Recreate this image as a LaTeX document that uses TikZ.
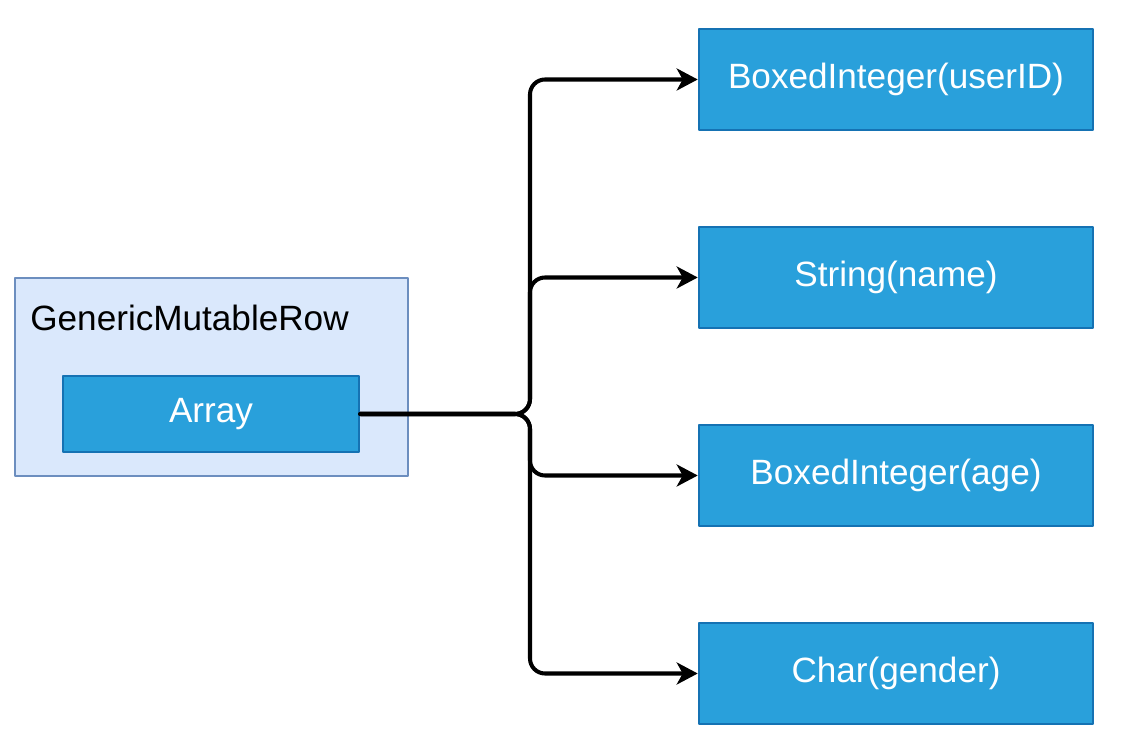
\documentclass[tikz,border=0pt]{standalone}
\usepackage{fontspec}
\setmainfont{Liberation Sans}
\usetikzlibrary{arrows.meta}
\definecolor{rowfill}{HTML}{DAE8FC}
\definecolor{rowline}{HTML}{6C8EBF}
\definecolor{cellfill}{HTML}{29A0DB}
\definecolor{cellline}{HTML}{1572B3}
\begin{document}
\begin{tikzpicture}[line cap=round,line join=round,>={Stealth[length=0.42cm,width=0.44cm,inset=0.12cm]},x=0.02cm,y=-0.02cm,
	rowbox/.style={draw=rowline,fill=rowfill,line width=1.5pt,minimum width=7.86cm,minimum height=3.96cm},
	cellbox/.style={draw=cellline,fill=cellfill,line width=1.5pt,text=white,font=\fontsize{20}{24}\selectfont},
	valbox/.style={cellbox,minimum width=7.88cm,minimum height=2.02cm},
	link/.style={->,line width=2.3pt,rounded corners=0.3cm}]
		\useasboundingbox (0,0) rectangle (1126,742);
		\node [rowbox] (row) at (211.5,377) {};
		\node [anchor=west,inner sep=0pt,font=\fontsize{20}{24}\selectfont] (rowname) at (30,318) {GenericMutableRow};
		\node [cellbox,minimum width=5.92cm,minimum height=1.52cm] (array) at (211,414) {Array};
		\node [valbox] (userid) at (896,79.5) {BoxedInteger(userID)};
		\node [valbox] (name) at (896,277.5) {String(name)};
		\node [valbox] (age) at (896,475.5) {BoxedInteger(age)};
		\node [valbox] (gender) at (896,673.5) {Char(gender)};
		\coordinate (fork) at (530,414);
		\draw [link] (array.east) -- (fork) |- (userid.west);
		\draw [link] (array.east) -- (fork) |- (name.west);
		\draw [link] (array.east) -- (fork) |- (age.west);
		\draw [link] (array.east) -- (fork) |- (gender.west);
	\end{tikzpicture}
\end{document}
